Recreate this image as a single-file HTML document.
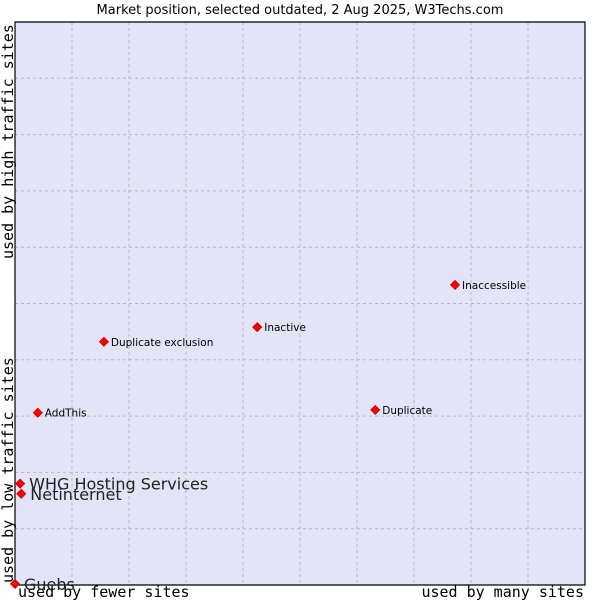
<!DOCTYPE html>
<html><head><meta charset="utf-8"><style>
body{margin:0;background:#fff;width:600px;height:600px;overflow:hidden}
svg{display:block}
</style></head><body>
<svg id="chart" width="600" height="600" xmlns="http://www.w3.org/2000/svg">
<text x="300" y="14" text-anchor="middle" font-family="'DejaVu Sans',sans-serif" font-size="13" fill="#000">Market position, selected outdated, 2 Aug 2025, W3Techs.com</text>
<rect x="15" y="22" width="570" height="563" fill="#e3e4f8" stroke="none"/>
<g id="grid"></g>
<path d="M15 22 H585 V585 H15 Z" fill="none" stroke="#000" stroke-width="1.2"/>
<text x="18" y="597" font-family="'DejaVu Sans Mono',monospace" font-size="15">used by fewer sites</text>
<text x="584" y="597" text-anchor="end" font-family="'DejaVu Sans Mono',monospace" font-size="15">used by many sites</text>
<text transform="translate(13,583) rotate(-90)" font-family="'DejaVu Sans Mono',monospace" font-size="15">used by low traffic sites</text>
<text transform="translate(13,259) rotate(-90)" font-family="'DejaVu Sans Mono',monospace" font-size="15">used by high traffic sites</text>
<g id="points"></g>
</svg>
<script>
const names=["Guebs","WHG Hosting Services","Netinternet","AddThis","Duplicate exclusion","Inactive","Duplicate","Inaccessible"];
const xVals=[0,0.9,1.1,4,15.6,42.5,63.2,77.2];
const yVals=[0.2,18,16.2,30.6,43.2,45.8,31.1,53.3];
const bigLabel=[true,true,true,false,false,false,false,false];
const NS="http://www.w3.org/2000/svg";
const L=15,R=585,T=22,B=585;
const sx=v=>L+v/100*(R-L);
const sy=v=>B-v/100*(B-T);
const grid=document.getElementById('grid');
for(let i=1;i<10;i++){
  const gx=L+57*i;
  const l=document.createElementNS(NS,'line');
  l.setAttribute('x1',gx);l.setAttribute('x2',gx);l.setAttribute('y1',T);l.setAttribute('y2',B);
  l.setAttribute('stroke','#b8b8b8');l.setAttribute('stroke-dasharray','3,3');
  
  
  grid.appendChild(l);
  const gy=B-56.3*i;
  const h=document.createElementNS(NS,'line');
  h.setAttribute('x1',L);h.setAttribute('x2',R);h.setAttribute('y1',gy);h.setAttribute('y2',gy);
  h.setAttribute('stroke','#b8b8b8');h.setAttribute('stroke-dasharray','3,3');
  
  
  grid.appendChild(h);
}
const pts=document.getElementById('points');
names.forEach((n,i)=>{
  const x=sx(xVals[i]),y=sy(yVals[i]);
  const d=document.createElementNS(NS,'path');
  d.setAttribute('d',`M${x} ${y-4.5} L${x+4.5} ${y} L${x} ${y+4.5} L${x-4.5} ${y} Z`);
  d.setAttribute('fill','#ff0000');d.setAttribute('stroke','#c00000');d.setAttribute('stroke-width','0.8');
  
  
  pts.appendChild(d);
  const t=document.createElementNS(NS,'text');
  t.setAttribute('x',x+(bigLabel[i]?9:7));
  t.setAttribute('y',y+(bigLabel[i]?6:4));
  t.setAttribute('font-family',"'DejaVu Sans',sans-serif");
  t.setAttribute('font-size',bigLabel[i]?'16':'10.5');
  t.setAttribute('fill',bigLabel[i]?'#222':'#000');
  t.textContent=n;
  
  
  pts.appendChild(t);
});
</script>
</body></html>
